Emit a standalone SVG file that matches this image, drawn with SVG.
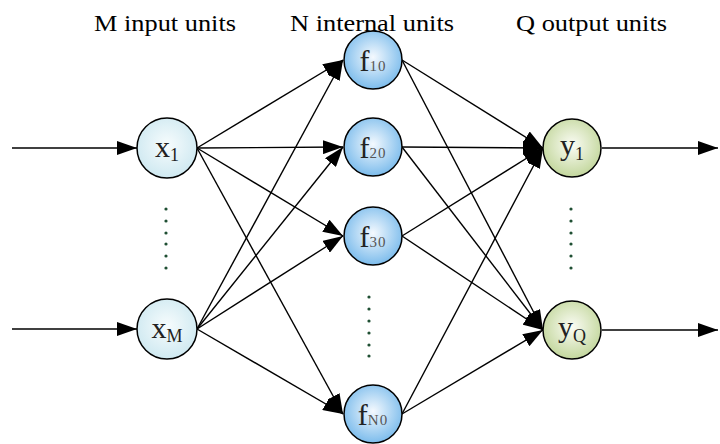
<svg xmlns="http://www.w3.org/2000/svg" width="720" height="444" viewBox="0 0 720 444">
<defs>
<radialGradient id="gIn" cx="50%" cy="45%" r="55%">
<stop offset="0" stop-color="#f7fcfd"/>
<stop offset="1" stop-color="#cfe9f1"/>
</radialGradient>
<radialGradient id="gHid" cx="50%" cy="45%" r="55%">
<stop offset="0" stop-color="#f4f9fe"/>
<stop offset="1" stop-color="#7cbcec"/>
</radialGradient>
<radialGradient id="gOut" cx="50%" cy="45%" r="55%">
<stop offset="0" stop-color="#fbfcf5"/>
<stop offset="1" stop-color="#c3d79d"/>
</radialGradient>
<marker id="arr" markerUnits="userSpaceOnUse" markerWidth="20" markerHeight="14" refX="20" refY="7" orient="auto">
<path d="M0,0 L20,7 L0,14 z" fill="#000"/>
</marker>
</defs>
<style>
.title{font-family:"Liberation Serif",serif;font-size:23px;fill:#000}
.node circle{stroke:#000;stroke-width:1.5}
.lab{font-family:"Liberation Serif",serif;font-size:30px;fill:#222;text-anchor:middle}
.sub{font-size:18px}
.subf{font-size:15px;fill:#555;letter-spacing:1px}
.conn line{stroke:#000;stroke-width:1.4;marker-end:url(#arr)}
.dot{fill:#1f4f33}
</style>

<text class="title" x="94" y="31" textLength="142" lengthAdjust="spacingAndGlyphs">M input units</text>
<text class="title" x="290" y="31" textLength="164" lengthAdjust="spacingAndGlyphs">N internal units</text>
<text class="title" x="516" y="31" textLength="151" lengthAdjust="spacingAndGlyphs">Q output units</text>

<g id="connectors" class="conn">
<line x1="12" y1="148" x2="137" y2="148"/>
<line x1="12" y1="329" x2="137" y2="329"/>
<line x1="197" y1="148" x2="343" y2="60"/>
<line x1="197" y1="148" x2="343" y2="147"/>
<line x1="197" y1="148" x2="343" y2="236"/>
<line x1="197" y1="148" x2="343" y2="414"/>
<line x1="197" y1="329" x2="343" y2="60"/>
<line x1="197" y1="329" x2="343" y2="147"/>
<line x1="197" y1="329" x2="343" y2="236"/>
<line x1="197" y1="329" x2="343" y2="414"/>
<line x1="402" y1="60" x2="543" y2="148"/>
<line x1="402" y1="60" x2="543" y2="330"/>
<line x1="402" y1="147" x2="543" y2="148"/>
<line x1="402" y1="147" x2="543" y2="330"/>
<line x1="402" y1="236" x2="543" y2="148"/>
<line x1="402" y1="236" x2="543" y2="330"/>
<line x1="402" y1="414" x2="543" y2="148"/>
<line x1="402" y1="414" x2="543" y2="330"/>
<line x1="602" y1="148" x2="718" y2="148"/>
<line x1="602" y1="330" x2="718" y2="330"/>
</g>

<g id="dots1">
<circle class="dot" cx="166" cy="209" r="1.6"/><circle class="dot" cx="166" cy="221" r="1.6"/><circle class="dot" cx="166" cy="233" r="1.6"/><circle class="dot" cx="166" cy="244" r="1.6"/><circle class="dot" cx="166" cy="256" r="1.6"/><circle class="dot" cx="166" cy="268" r="1.6"/>
</g>
<g id="dots2">
<circle class="dot" cx="369" cy="297" r="1.6"/><circle class="dot" cx="369" cy="309" r="1.6"/><circle class="dot" cx="369" cy="321" r="1.6"/><circle class="dot" cx="369" cy="333" r="1.6"/><circle class="dot" cx="369" cy="345" r="1.6"/><circle class="dot" cx="369" cy="356" r="1.6"/>
</g>
<g id="dots3">
<circle class="dot" cx="571" cy="209" r="1.6"/><circle class="dot" cx="571" cy="221" r="1.6"/><circle class="dot" cx="571" cy="233" r="1.6"/><circle class="dot" cx="571" cy="244" r="1.6"/><circle class="dot" cx="571" cy="256" r="1.6"/><circle class="dot" cx="571" cy="268" r="1.6"/>
</g>

<g id="x1" class="node"><circle cx="167" cy="148" r="30" fill="url(#gIn)"/><text class="lab" x="167" y="157">x<tspan class="sub" dy="4">1</tspan></text></g>
<g id="xM" class="node"><circle cx="167" cy="329" r="30" fill="url(#gIn)"/><text class="lab" x="167" y="338">x<tspan class="sub" dy="4">M</tspan></text></g>
<g id="f10" class="node"><circle cx="373" cy="60" r="29" fill="url(#gHid)"/><text class="lab" x="373" y="71">f<tspan class="subf" dy="0">10</tspan></text></g>
<g id="f20" class="node"><circle cx="373" cy="147" r="29" fill="url(#gHid)"/><text class="lab" x="373" y="158">f<tspan class="subf" dy="0">20</tspan></text></g>
<g id="f30" class="node"><circle cx="373" cy="236" r="29" fill="url(#gHid)"/><text class="lab" x="373" y="247">f<tspan class="subf" dy="0">30</tspan></text></g>
<g id="fN0" class="node"><circle cx="373" cy="414" r="29" fill="url(#gHid)"/><text class="lab" x="373" y="425">f<tspan class="subf" dy="0">N0</tspan></text></g>
<g id="y1" class="node"><circle cx="572" cy="148" r="29" fill="url(#gOut)"/><text class="lab" x="572" y="155">y<tspan class="sub" dy="5">1</tspan></text></g>
<g id="yQ" class="node"><circle cx="572" cy="330" r="29" fill="url(#gOut)"/><text class="lab" x="572" y="337">y<tspan class="sub" dy="5">Q</tspan></text></g>
</svg>
